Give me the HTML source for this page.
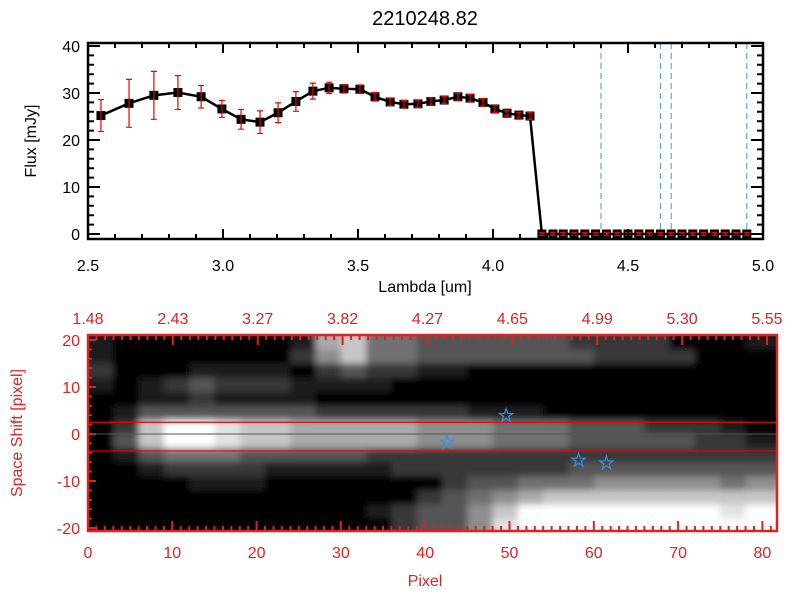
<!DOCTYPE html>
<html><head><meta charset="utf-8"><style>
body{margin:0;background:#fff;width:800px;height:600px;overflow:hidden}
svg text{font-family:"Liberation Sans",sans-serif}
</style></head><body>
<svg id="c" width="800" height="600" xmlns="http://www.w3.org/2000/svg">
<defs><clipPath id="imgclip"><rect x="88" y="335" width="689" height="196"/></clipPath>
<filter id="bl" x="-5%" y="-5%" width="110%" height="110%"><feGaussianBlur stdDeviation="3.5"/></filter></defs>
<g id="top"></g><g id="bot"></g>
</svg>
<script>
const lambdas=[2.548,2.652,2.744,2.833,2.919,2.996,3.067,3.137,3.204,3.27,3.333,3.393,3.448,3.507,3.563,3.619,3.670,3.722,3.770,3.819,3.870,3.915,3.963,4.007,4.052,4.096,4.137,4.181,4.222,4.26,4.30,4.34,4.38,4.42,4.46,4.50,4.54,4.58,4.62,4.66,4.70,4.74,4.78,4.82,4.86,4.90,4.94];
const flux=[25.2,27.8,29.5,30.1,29.2,26.6,24.4,23.8,25.8,28.2,30.4,31.1,30.9,30.8,29.2,28.1,27.6,27.7,28.2,28.5,29.2,28.9,28.0,26.6,25.7,25.3,25.1,0,0,0,0,0,0,0,0,0,0,0,0,0,0,0,0,0,0,0,0];
const ferr=[3.4,5.1,5.1,3.6,2.4,1.8,2.1,2.4,2.1,2.1,1.7,1.2,0.9,0.9,0.9,0.8,0.8,0.8,0.8,0.7,0.7,0.8,0.8,0.7,0.6,0.6,0.7,0.3,0.3,0.3,0.3,0.3,0.3,0.3,0.3,0.3,0.3,0.3,0.3,0.3,0.3,0.3,0.3,0.3,0.3,0.3,0.3];
const vlines=[4.40,4.62,4.66,4.94];
const xTicks=["2.5","3.0","3.5","4.0","4.5","5.0"];
const yTicks=["0","10","20","30","40"];
const topTicks=["1.48","2.43","3.27","3.82","4.27","4.65","4.99","5.30","5.55"];
const pixTicks=["0","10","20","30","40","50","60","70","80"];
const shiftTicks=["-20","-10","0","10","20"];
const apLines=[2.5,-3.6];
const stars=[[49.6,3.9],[42.6,-1.8],[58.2,-5.6],[61.5,-6.2]];
const img=["100000001674433333322220001","100000002574433333332222000","200011110232211000000000000","101232221111000000000000000","001121111000000000000000000","013333333222222111000000000","027998776666655544433322210","037998776666655544433333221","013444333332222222222222222","001222211111222222233333333","000011100000002334445555545","000000000000023456777777777","000000000001233579999999989","000000000000233589999999999"];
const NS="http://www.w3.org/2000/svg";
function mk(p,t,a,txt){const e=document.createElementNS(NS,t);for(const k in a)e.setAttribute(k,a[k]);if(txt!==undefined)e.textContent=txt;p.appendChild(e);return e;}
const T=document.getElementById('top'),B=document.getElementById('bot');
const X=l=>88+(l-2.5)*270, Y=f=>234-f*4.7;
let e=mk(T,'text',{x:425,y:25,'text-anchor':'middle','font-size':20},'2210248.82');

vlines.forEach(v=>{const l=mk(T,'line',{x1:X(v),x2:X(v),y1:43,y2:239,stroke:'#3a96e8','stroke-width':1,'stroke-dasharray':'6,4'});});
mk(T,'line',{x1:X(4.2),x2:763,y1:Y(0),y2:Y(0),stroke:'#e00','stroke-width':1.5,'stroke-dasharray':'5,4'});
let pts=lambdas.map((l,i)=>X(l)+','+Y(flux[i])).join(' ');
e=mk(T,'polyline',{points:pts,fill:'none',stroke:'#000','stroke-width':2.5});

lambdas.forEach((l,i)=>{const x=X(l),y=Y(flux[i]);
 const s=mk(T,'rect',{x:x-4.5,y:y-4.5,width:9,height:9,fill:'#000'});
 const g=mk(T,'path',{d:`M${x},${Y(flux[i]-ferr[i])}V${Y(flux[i]+ferr[i])}M${x-3},${Y(flux[i]-ferr[i])}h6M${x-3},${Y(flux[i]+ferr[i])}h6`,stroke:'#e00','stroke-width':1.2,fill:'none'});});
e=mk(T,'rect',{x:88,y:43,width:675,height:196,fill:'none',stroke:'#000','stroke-width':2.5});

for(let v=2.5;v<=5.001;v+=0.1){const x=X(v),mj=Math.abs(v*2-Math.round(v*2))<0.01,h=mj?10:5;mk(T,'path',{d:`M${x},239v-${h}M${x},43v${h}`,stroke:'#000','stroke-width':2});}
for(let v=0;v<=40;v+=2){const y=Y(v),h=v%10==0?12:6;mk(T,'path',{d:`M88,${y}h${h}M763,${y}h-${h}`,stroke:'#000','stroke-width':2});}
xTicks.forEach(t=>{const l=mk(T,'text',{x:X(+t),y:271,'text-anchor':'middle','font-size':16},t);});
yTicks.forEach(t=>{const l=mk(T,'text',{x:80,y:Y(+t)+6,'text-anchor':'end','font-size':16},t);});
e=mk(T,'text',{x:425,y:292,'text-anchor':'middle','font-size':16},'Lambda [um]');
e=mk(T,'text',{x:36,y:141,'text-anchor':'middle','font-size':16,transform:'rotate(-90 36 141)'},'Flux [mJy]');
// bottom
const PX=p=>88+p*8.43, SY=s=>434-s*4.7;
const ig=mk(B,'g',{'clip-path':'url(#imgclip)'});
mk(ig,'rect',{x:88,y:335,width:689,height:196,fill:'#000'});
const hg=mk(ig,'g',{filter:'url(#bl)'});
img.forEach((row,r)=>{for(let c=0;c<row.length;c++){const v=+row[c];const g=Math.round(v*28.3);
 const last=c==row.length-1, first=c==0;
 const y0=r==0?SY(21)-10:SY(21-r*3), hh=(r==0||r==img.length-1)?24.6:14.6;
 const cell=mk(hg,'rect',{x:first?PX(0)-10:PX(c*3),y:y0,width:8.43*3+0.5+(last||first?12:0),height:hh,fill:`rgb(${g},${g},${g})`});
 }});
mk(B,'line',{x1:88,x2:777,y1:SY(0),y2:SY(0),stroke:'#555','stroke-width':1});
apLines.forEach(a=>{const l=mk(B,'line',{x1:88,x2:777,y1:SY(a),y2:SY(a),stroke:'#e00','stroke-width':1.2});});
stars.forEach(s=>{const cx=PX(s[0]),cy=SY(s[1]);let d='';for(let k=0;k<10;k++){const r=k%2?2.8:7,a=-Math.PI/2+k*Math.PI/5;d+=(k?'L':'M')+(cx+r*Math.cos(a)).toFixed(1)+','+(cy+r*Math.sin(a)).toFixed(1);}
 const st=mk(B,'path',{d:d+'Z',fill:'none',stroke:'#3a8ee8','stroke-width':1.2});});
e=mk(B,'rect',{x:88,y:335,width:689,height:196,fill:'none',stroke:'#d22','stroke-width':2.5});

for(let p=0;p<=81;p++){const x=PX(p),h=p%10==0?10:5;mk(B,'path',{d:`M${x},531v-${h}`,stroke:'#d22','stroke-width':2});}
for(let i=0;i<=80;i++){const x=88+i*(679/80),h=i%10==0?10:5;mk(B,'path',{d:`M${x},335v${h}`,stroke:'#d22','stroke-width':2});}
for(let s=-20;s<=20;s+=2){const y=SY(s),h=s%10==0?8:4;mk(B,'path',{d:`M88,${y}h${h}`,stroke:'#d22','stroke-width':2});}
pixTicks.forEach(t=>{const l=mk(B,'text',{x:PX(+t),y:558,'text-anchor':'middle','font-size':16,fill:'#d22'},t);});
topTicks.forEach((t,i)=>{const l=mk(B,'text',{x:88+i*(679/8),y:324,'text-anchor':'middle','font-size':16,fill:'#d22'},t);});
shiftTicks.forEach(t=>{const l=mk(B,'text',{x:80,y:SY(+t)+6,'text-anchor':'end','font-size':16,fill:'#d22'},t);});
e=mk(B,'text',{x:425,y:586,'text-anchor':'middle','font-size':16,fill:'#d22'},'Pixel');
e=mk(B,'text',{x:22,y:433,'text-anchor':'middle','font-size':16,fill:'#d22',transform:'rotate(-90 22 433)'},'Space Shift [pixel]');
</script>
</body></html>
